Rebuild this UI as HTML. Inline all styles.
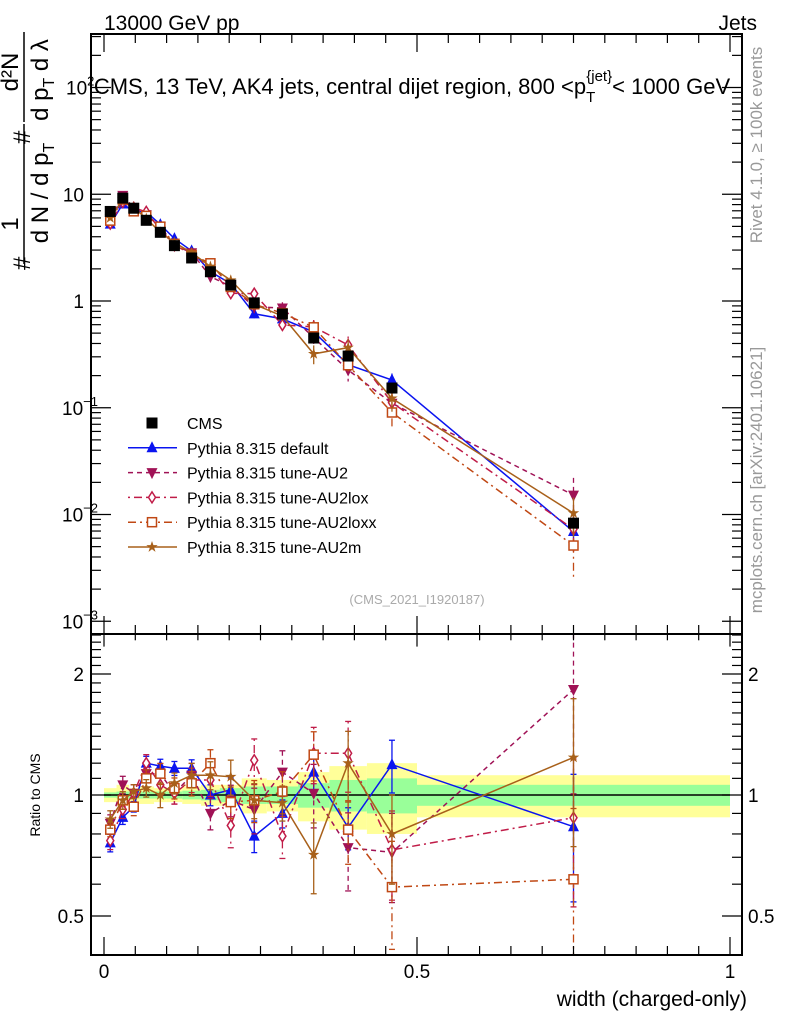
<!DOCTYPE html>
<html><head><meta charset="utf-8"><style>
html,body{margin:0;padding:0;background:#fff;}
svg{display:block;font-family:"Liberation Sans",sans-serif;}
</style></head><body>
<svg id="c" width="786" height="1024" viewBox="0 0 786 1024" xmlns="http://www.w3.org/2000/svg">
<text x="104" y="30" font-size="21">13000 GeV pp</text>
<text x="757" y="30" font-size="21" text-anchor="end">Jets</text>
<text x="412" y="94" font-size="22" text-anchor="middle">CMS, 13 TeV, AK4 jets, central dijet region, 800 &lt;p<tspan font-size="15" dy="8">T</tspan><tspan font-size="15" dy="-21" dx="-9">{jet}</tspan><tspan dy="13">&lt; 1000 GeV</tspan></text>
<text transform="translate(762,145) rotate(-90)" font-size="17" fill="#999" text-anchor="middle">Rivet 4.1.0, ≥ 100k events</text>
<text transform="translate(762,480) rotate(-90)" font-size="17" fill="#999" text-anchor="middle">mcplots.cern.ch [arXiv:2401.10621]</text>
<text x="417" y="604" font-size="13" fill="#aaa" text-anchor="middle">(CMS_2021_I1920187)</text>
<g transform="rotate(-90)" font-size="24">
<text x="-270" y="30">#</text>
<text x="-224" y="18" text-anchor="middle">1</text>
<line x1="-264" y1="24" x2="-124" y2="24" stroke="#000" stroke-width="1.5"/>
<text x="-193" y="48" text-anchor="middle">d N / d p<tspan font-size="16" dy="6">T</tspan></text>
<text x="-144" y="30">#</text>
<text x="-72" y="18" text-anchor="middle">d²N</text>
<line x1="-122" y1="24" x2="-32" y2="24" stroke="#000" stroke-width="1.5"/>
<text x="-80" y="48" text-anchor="middle">d p<tspan font-size="16" dy="6">T</tspan><tspan dy="-6"> d λ</tspan></text>
</g>
<text transform="translate(40,795) rotate(-90)" font-size="14" text-anchor="middle">Ratio to CMS</text>
<text x="747" y="1006" font-size="21" text-anchor="end">width (charged-only)</text>
<g id="g"></g>
</svg>
<script>
var edges=[0,0.02,0.04,0.055,0.08,0.1,0.125,0.155,0.185,0.22,0.26,0.31,0.36,0.42,0.5,1.0];
var cmsVals=[6.9,9.2,7.4,5.7,4.4,3.3,2.53,1.88,1.41,0.96,0.755,0.45,0.305,0.153,0.0083];
var bandTot=[0.04,0.06,0.04,0.05,0.04,0.04,0.05,0.06,0.06,0.10,0.09,0.14,0.18,0.20,0.12];
var bandStat=[0.015,0.02,0.02,0.02,0.02,0.02,0.025,0.03,0.04,0.05,0.05,0.07,0.09,0.10,0.06];
var rDefault=[0.76,0.88,0.935,1.20,1.18,1.165,1.165,1.0,1.03,0.79,0.90,1.14,0.83,1.19,0.834];
var rAU2=[0.85,1.06,1.01,1.13,1.13,1.01,1.12,0.90,0.97,0.92,1.14,1.01,0.74,0.72,1.83];
var rAU2lox=[0.77,0.92,1.01,1.20,1.06,1.01,1.09,1.09,0.84,1.22,0.79,1.27,1.27,0.73,0.878];
var rAU2loxx=[0.82,0.97,0.935,1.10,1.13,1.04,1.07,1.20,0.96,0.97,1.02,1.26,0.82,0.59,0.617];
var rAU2m=[0.87,0.97,1.02,1.04,1.0,1.07,1.12,1.12,1.11,0.97,0.957,0.71,1.2,0.80,1.24];
var eDefault=[0.05,0.04,0.03,0.04,0.04,0.04,0.05,0.06,0.07,0.09,0.08,0.10,0.12,0.15,0.35];
var eAU2=[0.05,0.05,0.05,0.05,0.06,0.06,0.07,0.09,0.09,0.13,0.13,0.18,0.22,0.25,0.45];
var eAU2lox=[0.05,0.05,0.05,0.05,0.06,0.06,0.07,0.09,0.12,0.13,0.12,0.16,0.2,0.25,0.4];
var eAU2loxx=[0.04,0.05,0.05,0.05,0.06,0.06,0.07,0.08,0.09,0.12,0.12,0.14,0.18,0.3,0.5];
var eAU2m=[0.05,0.05,0.04,0.05,0.07,0.06,0.07,0.08,0.1,0.1,0.1,0.2,0.2,0.25,0.4];
var series=[
 {name:'Pythia 8.315 default',r:rDefault,e:eDefault,col:'#0a14f0',dash:'',m:'tri',key:'default'},
 {name:'Pythia 8.315 tune-AU2',r:rAU2,e:eAU2,col:'#a01256',dash:'5,4',m:'tridown',key:'au2'},
 {name:'Pythia 8.315 tune-AU2lox',r:rAU2lox,e:eAU2lox,col:'#c01c48',dash:'2,4,8,4',m:'diamond',key:'au2lox'},
 {name:'Pythia 8.315 tune-AU2loxx',r:rAU2loxx,e:eAU2loxx,col:'#c04814',dash:'8,4,2,4',m:'osq',key:'au2loxx'},
 {name:'Pythia 8.315 tune-AU2m',r:rAU2m,e:eAU2m,col:'#a8601a',dash:'',m:'star',key:'au2m'}
];
var NS='http://www.w3.org/2000/svg',G=document.getElementById('g');
function el(t,a,p){var e=document.createElementNS(NS,t);for(var k in a)e.setAttribute(k,a[k]);(p||G).appendChild(e);return e;}
var L=91,R=742,T=34,M=634,B=955;
function X(v){return 104+626*v;}
function Y(v){return 301-106.75*Math.log10(v);}
function YR(v){return 795-402*Math.log10(v);}
function marker(m,x,y,col,p){
 var s;
 if(m==='tri')s=el('polygon',{points:(x-5.5)+','+(y+4.5)+' '+(x+5.5)+','+(y+4.5)+' '+x+','+(y-6.5),fill:col},p);
 else if(m==='tridown')s=el('polygon',{points:(x-5.5)+','+(y-4.5)+' '+(x+5.5)+','+(y-4.5)+' '+x+','+(y+6.5),fill:col},p);
 else if(m==='diamond')s=el('polygon',{points:x+','+(y-5.5)+' '+(x+3.5)+','+y+' '+x+','+(y+5.5)+' '+(x-3.5)+','+y,fill:'#fff',stroke:col,'stroke-width':1.5},p);
 else if(m==='osq')s=el('rect',{x:x-4.5,y:y-4.5,width:9,height:9,fill:'#fff',stroke:col,'stroke-width':1.5},p);
 else if(m==='star'){var pts=[];for(var i=0;i<10;i++){var a=-Math.PI/2+i*Math.PI/5,rr=i%2?2.3:6;pts.push((x+rr*Math.cos(a)).toFixed(1)+','+(y+rr*Math.sin(a)).toFixed(1));}s=el('polygon',{points:pts.join(' '),fill:col},p);}
 else s=el('rect',{x:x-5.5,y:y-5.5,width:11,height:11,fill:col},p);
 return s;
}
var bands=el('g',{});


for(var i=0;i<cmsVals.length;i++){
 var x0=X(edges[i]),x1=X(edges[i+1]);
 var r=el('rect',{x:x0,y:YR(1+bandTot[i]),width:x1-x0,height:YR(1-bandTot[i])-YR(1+bandTot[i]),fill:'#ffff99'},bands);
 
 
 var r2=el('rect',{x:x0,y:YR(1+bandStat[i]),width:x1-x0,height:YR(1-bandStat[i])-YR(1+bandStat[i]),fill:'#99ff99'},bands);
 
 
}
el('line',{x1:X(0),x2:X(1),y1:YR(1),y2:YR(1),stroke:'#000','stroke-width':1.5});
var defs=el('defs',{});
var cp=el('clipPath',{id:'cr'},defs);el('rect',{x:L,y:M,width:R-L,height:B-M},cp);
var cpt=el('clipPath',{id:'ct'},defs);el('rect',{x:L,y:T,width:R-L,height:M-T},cpt);
series.forEach(function(s){
 var gt=el('g',{'clip-path':'url(#ct)'});
 
 
 var gr=el('g',{'clip-path':'url(#cr)'});
 
 
 var pt=[],pr=[];
 for(var i=0;i<cmsVals.length;i++){
  var xc=X((edges[i]+edges[i+1])/2),v=cmsVals[i]*s.r[i];
  pt.push(xc+','+Y(v).toFixed(1));pr.push(xc+','+YR(s.r[i]).toFixed(1));
 }
 var pl=el('polyline',{points:pt.join(' '),fill:'none',stroke:s.col,'stroke-width':1.5,'stroke-dasharray':s.dash},gt);
 
 
 var pl2=el('polyline',{points:pr.join(' '),fill:'none',stroke:s.col,'stroke-width':1.5,'stroke-dasharray':s.dash},gr);
 
 
 for(var i=0;i<cmsVals.length;i++){
  var xc=X((edges[i]+edges[i+1])/2),v=cmsVals[i]*s.r[i],e=s.e[i];
  el('line',{x1:xc,x2:xc,y1:Y(v*(1+e)),y2:Y(v*Math.max(0.05,1-e)),stroke:s.col,'stroke-width':1.3,'stroke-dasharray':s.dash},gt);
  el('line',{x1:xc,x2:xc,y1:YR(s.r[i]*(1+e)),y2:YR(s.r[i]*Math.max(0.05,1-e)),stroke:s.col,'stroke-width':1.3,'stroke-dasharray':s.dash},gr);
  el('line',{x1:xc-3,x2:xc+3,y1:YR(s.r[i]*(1+e)),y2:YR(s.r[i]*(1+e)),stroke:s.col,'stroke-width':1.3},gr);
  el('line',{x1:xc-3,x2:xc+3,y1:YR(s.r[i]*(1-e)),y2:YR(s.r[i]*(1-e)),stroke:s.col,'stroke-width':1.3},gr);
  var m1=marker(s.m,xc,Y(v),s.col,gt);
  
  
  var m2=marker(s.m,xc,YR(s.r[i]),s.col,gr);
  
  
 }
});
var gc=el('g',{});


for(var i=0;i<cmsVals.length;i++){
 var xc=X((edges[i]+edges[i+1])/2);
 var m=marker('sq',xc,Y(cmsVals[i]),'#000',gc);
 
 
}
[[T,M],[M,B]].forEach(function(f){el('rect',{x:L,y:f[0],width:R-L,height:f[1]-f[0],fill:'none',stroke:'#000','stroke-width':2});});
for(var k=0;k<=20;k++){
 var v=k*0.05,x=X(v),big=(k%10===0),len=big?18:9;
 [[M,-1],[B,-1],[T,1]].forEach(function(a){el('line',{x1:x,x2:x,y1:a[0],y2:a[0]+a[1]*len,stroke:'#000','stroke-width':1.2});});
 el('line',{x1:x,x2:x,y1:M,y2:M+len*0.7,stroke:'#000','stroke-width':1.2});
}
var xlab=['0','0.5','1'];
for(var k=0;k<3;k++){var t=el('text',{x:X(k*0.5),y:978,'font-size':19,'text-anchor':'middle'});t.textContent=xlab[k];
 
 }
for(var d=-3;d<=2;d++){for(var j=1;j<=9;j++){var v=j*Math.pow(10,d),y=Y(v);if(y<T||y>M)continue;var len=j===1?20:10;
 el('line',{x1:L,x2:L+len,y1:y,y2:y,stroke:'#000','stroke-width':1.2});el('line',{x1:R,x2:R-len,y1:y,y2:y,stroke:'#000','stroke-width':1.2});}}
var ylabs=[['10',10],['1',1]];
ylabs.forEach(function(a){var t=el('text',{x:84,y:Y(a[1])+7,'font-size':19,'text-anchor':'end'});t.textContent=a[0];
 
 });
[['-1',0.1],['-2',0.01],['-3',0.001],['2',100]].forEach(function(a){var t=el('text',{x:62,y:Y(a[1])+7,'font-size':19,'text-anchor':'start'});
 t.innerHTML='10<tspan font-size="13" dy="-9">'+(a[0]==='2'?'2':'−'+a[0].slice(1))+'</tspan>';
 if(a[0]==='2'){t.setAttribute('x',66);}
 
 });
var rt=[0.4,0.5,0.6,0.7,0.8,0.9,1,1.1,1.2,1.3,1.4,1.5,1.6,1.7,1.8,1.9,2,2.1,2.2,2.3,2.4,2.5];
rt.forEach(function(v){var y=YR(v);var big=(v===0.5||v===1||v===2);var len=big?20:10;
 el('line',{x1:L,x2:L+len,y1:y,y2:y,stroke:'#000','stroke-width':1.2});el('line',{x1:R,x2:R-len,y1:y,y2:y,stroke:'#000','stroke-width':1.2});});
[['2',2],['1',1],['0.5',0.5]].forEach(function(a){
 var t=el('text',{x:84,y:YR(a[1])+7,'font-size':19,'text-anchor':'end'});t.textContent=a[0];
 
 
 var t2=el('text',{x:748,y:YR(a[1])+7,'font-size':19,'text-anchor':'start'});t2.textContent=a[0];
 
 });
var lg=el('g',{});


var ents=[{name:'CMS',m:'sq',col:'#000',dash:'',line:false}].concat(series.map(function(s){return {name:s.name,m:s.m,col:s.col,dash:s.dash,line:true};}));
ents.forEach(function(e,i){
 var y=423+24.8*i;var g=el('g',{},lg);
 
 
 if(e.line)el('line',{x1:128,x2:177,y1:y,y2:y,stroke:e.col,'stroke-width':1.5,'stroke-dasharray':e.dash},g);
 marker(e.m,152,y,e.col,g);
 var t=el('text',{x:187,y:y+6,'font-size':16},g);t.textContent=e.name;
});
</script>
</body></html>
